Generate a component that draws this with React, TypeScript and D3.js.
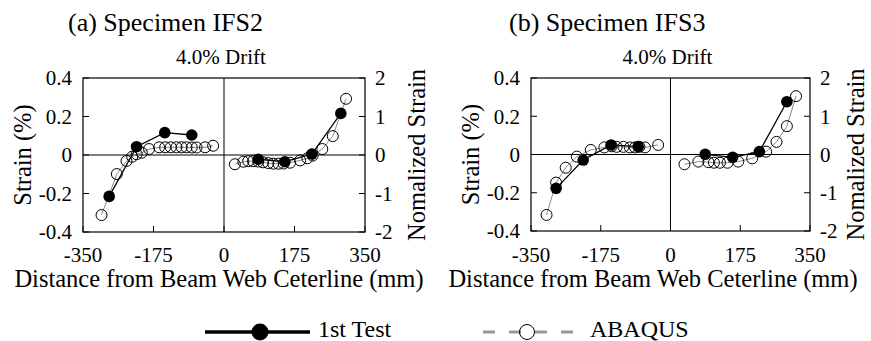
import React from 'react';
import { scaleLinear, line } from 'd3';

// distance from beam web centerline (mm) and strain (%)
const ifs2TestX = [-285, -217, -147, -80, 85, 151, 218, 290];
const ifs2TestY = [-0.215, 0.043, 0.116, 0.104, -0.022, -0.035, 0.005, 0.216];
const ifs2AbaqusX = [-304, -266, -242, -228, -217, -204, -186, -161, -146, -132, -118, -105, -93, -80, -68, -47, -27,
  27, 48, 60, 72, 85, 97, 110, 122, 135, 148, 164, 189, 207, 220, 244, 270, 303];
const ifs2AbaqusY = [-0.312, -0.099, -0.031, -0.009, 0.004, 0.012, 0.031, 0.04, 0.04, 0.04, 0.04, 0.04, 0.04, 0.039, 0.039, 0.04, 0.048,
  -0.048, -0.035, -0.032, -0.032, -0.034, -0.038, -0.042, -0.045, -0.045, -0.044, -0.04, -0.028, -0.017, -0.003, 0.031, 0.098, 0.292];

const ifs3TestX = [-287, -219, -149, -81, 87, 156, 223, 292];
const ifs3TestY = [-0.177, -0.029, 0.05, 0.041, 0.001, -0.015, 0.015, 0.276];
const ifs3AbaqusX = [-311, -287, -263, -235, -200, -166, -148, -135, -118, -102, -89, -78, -64, -31,
  35, 70, 95, 109, 124, 143, 170, 205, 240, 266, 292, 315];
const ifs3AbaqusY = [-0.316, -0.147, -0.069, -0.011, 0.024, 0.037, 0.043, 0.04, 0.04, 0.037, 0.037, 0.04, 0.037, 0.05,
  -0.051, -0.037, -0.04, -0.043, -0.043, -0.043, -0.037, -0.02, 0.015, 0.066, 0.148, 0.305];

const xTicks = [-350, -175, 0, 175, 350];
const yTicks = [0.4, 0.2, 0, -0.2, -0.4];
const y2Ticks = [2, 1, 0, -1, -2];

type Pt = [number, number];
const zip = (xs: number[], ys: number[]): Pt[] => xs.map((x, i) => [x, ys[i]]);
// curves are drawn separately either side of the web
const halves = (pts: Pt[]) => [pts.filter(p => p[0] < 0), pts.filter(p => p[0] > 0)];

function Panel({ left, right, top, bottom, title, titleX, xLabelX, rightLabelDx, test, abaqus }: any) {
  const x = scaleLinear().domain([-350, 350]).range([left, right]);
  const y = scaleLinear().domain([-0.4, 0.4]).range([bottom, top]);
  const y2 = scaleLinear().domain([-2, 2]).range([bottom, top]);
  const path = line<Pt>().x(d => x(d[0])).y(d => y(d[1]));
  const cx = (left + right) / 2;
  const cy = (top + bottom) / 2;
  const tl = 6;
  return (
    <g>
      <text x={titleX} y={31} fontSize={26}>{title}</text>
      <text x={cx - 3} y={64} fontSize={21} textAnchor="middle">4.0% Drift</text>

      <rect x={left} y={top} width={right - left} height={bottom - top} fill="none" stroke="#000" strokeWidth={1.2} />
      <line x1={left} x2={right} y1={y(0)} y2={y(0)} stroke="#000" strokeWidth={1} />
      <line x1={x(0)} x2={x(0)} y1={top} y2={bottom} stroke="#000" strokeWidth={1} />

      {yTicks.map(t => (
        <g key={'y' + t}>
          <line x1={left} x2={left + tl} y1={y(t)} y2={y(t)} stroke="#000" />
          <text x={left - 11} y={y(t)} dy="0.35em" textAnchor="end" fontSize={21}>{t === 0 ? '0' : t.toFixed(1)}</text>
        </g>
      ))}
      {y2Ticks.map(t => (
        <g key={'y2' + t}>
          <line x1={right - tl} x2={right} y1={y2(t)} y2={y2(t)} stroke="#000" />
          <text x={right + 10} y={y2(t)} dy="0.35em" fontSize={21}>{t}</text>
        </g>
      ))}
      {xTicks.map(t => (
        <g key={'x' + t}>
          <line x1={x(t)} x2={x(t)} y1={bottom} y2={bottom - tl} stroke="#000" />
          <text x={x(t)} y={262} textAnchor="middle" fontSize={21}>{t}</text>
        </g>
      ))}

      <text x={xLabelX} y={287} textAnchor="middle" fontSize={24.5}>Distance from Beam Web Ceterline (mm)</text>
      <text transform={`translate(${left - 61},${cy}) rotate(-90)`} dy="0.35em" textAnchor="middle" fontSize={24.5}>Strain (%)</text>
      <text transform={`translate(${right + rightLabelDx},${cy}) rotate(-90)`} dy="0.35em" textAnchor="middle" fontSize={24.5}>Nomalized Strain</text>

      {halves(abaqus).map((seg, i) => (
        <path key={'ap' + i} d={path(seg) || ''} fill="none" stroke="#8a8a8a" strokeWidth={1} />
      ))}
      {abaqus.map((d: Pt, i: number) => (
        <circle key={'ac' + i} cx={x(d[0])} cy={y(d[1])} r={5.5} fill="none" stroke="#000" strokeWidth={1} />
      ))}
      {halves(test).map((seg, i) => (
        <path key={'tp' + i} d={path(seg) || ''} fill="none" stroke="#000" strokeWidth={1.3} />
      ))}
      {test.map((d: Pt, i: number) => (
        <circle key={'tc' + i} cx={x(d[0])} cy={y(d[1])} r={5.8} fill="#000" />
      ))}
    </g>
  );
}

export default function App() {
  return (
    <svg width={871} height={341} fontFamily="Liberation Serif, Times New Roman, serif"
      style={{ position: 'absolute', left: 0, top: 0, background: '#fff', fontFamily: '"Liberation Serif", "Times New Roman", serif' }}>
      <Panel left={83} right={365} top={78} bottom={232} title="(a) Specimen IFS2" titleX={68} xLabelX={219} rightLabelDx={51}
        test={zip(ifs2TestX, ifs2TestY)} abaqus={zip(ifs2AbaqusX, ifs2AbaqusY)} />
      <Panel left={531} right={810} top={78} bottom={231} title="(b) Specimen IFS3" titleX={509} xLabelX={653} rightLabelDx={45}
        test={zip(ifs3TestX, ifs3TestY)} abaqus={zip(ifs3AbaqusX, ifs3AbaqusY)} />

      {/* legend */}
      <line x1={205} x2={310} y1={332} y2={332} stroke="#000" strokeWidth={3.5} />
      <circle cx={260} cy={332} r={8.5} fill="#000" />
      <text x={318} y={337} fontSize={24}>1st Test</text>
      <line x1={483} x2={578} y1={332} y2={332} stroke="#999" strokeWidth={3} strokeDasharray="12 14" />
      <circle cx={527} cy={332} r={7.5} fill="none" stroke="#000" strokeWidth={1} />
      <text x={590} y={337} fontSize={24}>ABAQUS</text>
    </svg>
  );
}
